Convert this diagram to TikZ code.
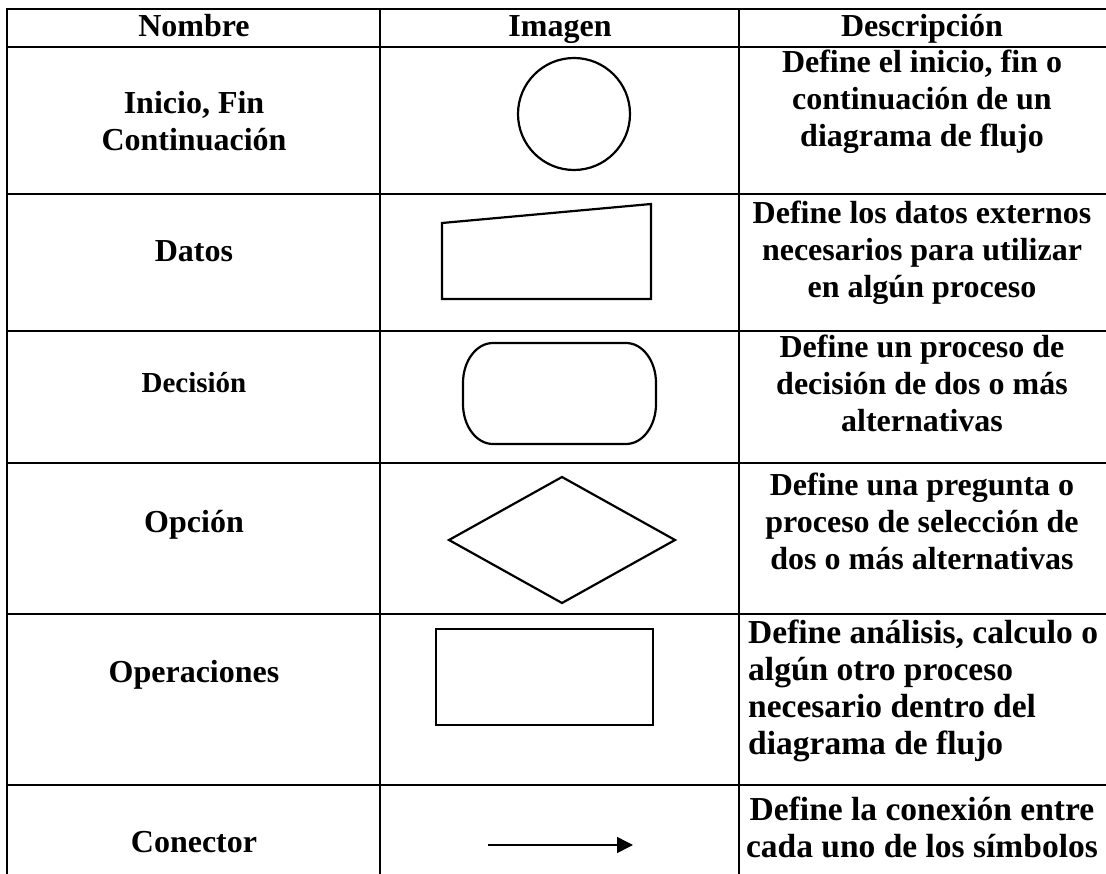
\documentclass[tikz,border=0pt]{standalone}
\usepackage{fontspec}
\setmainfont{Liberation Serif}
\usetikzlibrary{arrows.meta}
\begin{document}
\begin{tikzpicture}[x=1pt,y=-1pt,
  tbl/.style={line width=2.8pt,line cap=rect},
  shp/.style={line width=2.2pt,line join=miter},
  txt/.style={font=\fontsize{32}{37}\selectfont\bfseries,inner sep=0pt,text width=420pt,align=flush center,anchor=base},
  txtb/.style={font=\fontsize{33.5}{37}\selectfont\bfseries,inner sep=0pt,text width=420pt,align=flush center,anchor=base},
  txtl/.style={font=\fontsize{33.5}{37}\selectfont\bfseries,inner sep=0pt,text width=400pt,align=flush left,anchor=base west},
  txts/.style={font=\fontsize{29}{34}\selectfont\bfseries,inner sep=0pt,text width=300pt,align=flush center,anchor=base}]
\useasboundingbox (0,0) rectangle (1106,874);
% table grid
\draw[tbl] (7,9) -- (1106,9);
\draw[tbl] (7,47) -- (1106,47);
\draw[tbl] (7,194) -- (1106,194);
\draw[tbl] (7,331) -- (1106,331);
\draw[tbl] (7,463) -- (1106,463);
\draw[tbl] (7,614) -- (1106,614);
\draw[tbl] (7,785) -- (1106,785);
\draw[tbl] (7,9) -- (7,874);
\draw[tbl] (380,9) -- (380,874);
\draw[tbl] (739,9) -- (739,874);
% header
\node[txt] (hN) at (194,37) {Nombre};
\node[txt] (hI) at (560,37) {Imagen};
\node[txt] (hD) at (922,37) {Descripción};
% row 1
\node[txt] (n1) at (194,114) {Inicio, Fin\\Continuación};
\draw[shp] (574,114) circle[radius=56];
\node[txt] (d1) at (922,73) {Define el inicio, fin o\\continuación de un\\diagrama de flujo};
% row 2
\node[txt] (n2) at (194,262) {Datos};
\draw[shp] (442,223) -- (651,204) -- (651,299) -- (442,299) -- cycle;
\node[txt] (d2) at (922,224) {Define los datos externos\\necesarios para utilizar\\en algún proceso};
% row 3
\node[txts] (n3) at (194,393) {Decisión};
\draw[shp] (493,343) -- (626,343) .. controls (642.6,343) and (656,360.9) .. (656,383) -- (656,404)
  .. controls (656,426.1) and (642.6,444) .. (626,444) -- (493,444)
  .. controls (476.4,444) and (463,426.1) .. (463,404) -- (463,383)
  .. controls (463,360.9) and (476.4,343) .. (493,343) -- cycle;
\node[txt] (d3) at (922,358) {Define un proceso de\\decisión de dos o más\\alternativas};
% row 4
\node[txt] (n4) at (194,532) {Opción};
\draw[shp] (449,540) -- (562,477) -- (675,540) -- (562,603) -- cycle;
\node[txt] (d4) at (922,495) {Define una pregunta o\\proceso de selección de\\dos o más alternativas};
% row 5
\node[txt] (n5) at (194,682) {Operaciones};
\draw[shp] (436,629) rectangle (653,725);
\node[txtl] (d5) at (748,643) {Define análisis, calculo o\\algún otro proceso\\necesario dentro del\\diagrama de flujo};
% row 6
\node[txt] (n6) at (194,852) {Conector};
\coordinate (a1) at (488,845);
\coordinate (a2) at (633,845);
\draw[line width=1.5pt,-{Triangle[length=16pt,width=16pt]}] (a1) -- (a2);
\node[txtb] (d6) at (922,820) {Define la conexión entre\\cada uno de los símbolos};
\end{tikzpicture}
\end{document}
